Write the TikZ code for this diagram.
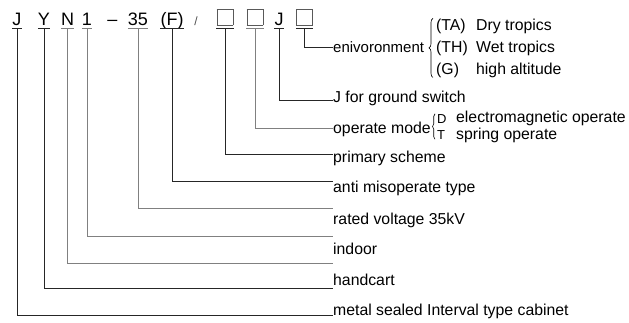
\documentclass[tikz,border=0pt]{standalone}
\usepackage{fontspec}
\setmainfont{Liberation Sans}
\usetikzlibrary{decorations.pathreplacing}

\newcommand{\blankbox}{\textcolor{black!65}{\setlength{\fboxsep}{0pt}\setlength{\fboxrule}{0.6pt}\fbox{\rule{0pt}{15.5pt}\hspace{15.5pt}}}}

\begin{document}
\begin{tikzpicture}[
x=1pt, y=-1pt,
code/.style={font=\fontsize{18}{20}\selectfont, inner xsep=0pt, inner ysep=3pt, text depth=0pt, anchor=base},
lbl/.style={font=\fontsize{15.8}{18}\selectfont, inner sep=0pt, anchor=base west},
opt/.style={font=\fontsize{15.8}{18}\selectfont, inner sep=0pt, anchor=base west},
small/.style={font=\fontsize{13}{14}\selectfont, inner sep=0pt, anchor=base west},
lead/.style={line width=0.7pt, black!85},
leadg/.style={line width=0.7pt, black!50},
brace/.style={decorate, decoration={brace, amplitude=4pt}, line width=0.6pt}
]
\useasboundingbox (0,0) rectangle (629,322);

\node[code] (cJ) at (17,25) {J};
\node[code] (cY) at (44,25) {Y};
\node[code] (cN) at (67.5,25) {N};
\node[code] (c1) at (87,25) {1};
\node[code] (dash) at (112.5,25) {–};
\node[code] (c35) at (138,25) {35};
\node[code] (cF) at (172,25) {(F)};
\node[code, font=\fontsize{12}{14}\selectfont, black!70] (slash) at (196,25) {/};
\node[code] (b1) at (225,25) {\blankbox};
\node[code] (b2) at (255,25) {\blankbox};
\node[code] (cJJ) at (279,25) {J};
\node[code] (b3) at (304.5,25) {\blankbox};

\node[lbl, font=\fontsize{15}{18}\selectfont] (env) at (333,52) {enivoronment};
\node[opt] (tTA) at (436,30) {(TA)};
\node[opt] (tTH) at (436,52) {(TH)};
\node[opt] (tG) at (436,74) {(G)};
\node[opt] at (476,30) {Dry tropics};
\node[opt] at (476,52) {Wet tropics};
\node[opt] at (476,74) {high altitude};

\node[lbl] (ground) at (333,102) {J for ground switch};
\node[lbl] (mode) at (333,133) {operate mode};
\node[small] (mD) at (437,123) {D};
\node[small] (mT) at (437,139) {T};
\node[lbl] at (456,122) {electromagnetic operate};
\node[lbl] at (456,139) {spring operate};
\node[lbl] (scheme) at (333,162) {primary scheme};
\node[lbl] (anti) at (333,192) {anti misoperate type};
\node[lbl] (rated) at (333,224) {rated voltage 35kV};
\node[lbl] (indoor) at (333,254) {indoor};
\node[lbl] (handcart) at (333,285) {handcart};
\node[lbl] (cabinet) at (333,315) {metal sealed Interval type cabinet};

\coordinate (eB3) at (333,47);
\coordinate (eJJ) at (333,100);
\coordinate (eB2) at (333,128);
\coordinate (eB1) at (333,154);
\coordinate (eF) at (333,181);
\coordinate (e35) at (333,208);
\coordinate (e1) at (333,236);
\coordinate (eN) at (333,263);
\coordinate (eY) at (333,288);
\coordinate (eJ) at (333,315);

\draw[lead] (b3.south west) -- (b3.south east) (b3.south) |- (eB3);
\draw[lead] (cJJ.south west) -- (cJJ.south east) (cJJ.south) |- (eJJ);
\draw[leadg] (b2.south west) -- (b2.south east) (b2.south) |- (eB2);
\draw[lead] (b1.south west) -- (b1.south east) (b1.south) |- (eB1);
\draw[lead] (cF.south west) -- (cF.south east) (cF.south) |- (eF);
\draw[leadg] (c35.south west) -- (c35.south east) (c35.south) |- (e35);
\draw[leadg] (c1.south west) -- (c1.south east) (c1.south) |- (e1);
\draw[leadg] (cN.south west) -- (cN.south east) (cN.south) |- (eN);
\draw[lead] (cY.south west) -- (cY.south east) (cY.south) |- (eY);
\draw[lead] (cJ.south west) -- (cJ.south east) (cJ.south) |- (eJ);

\draw[brace] ([xshift=-3pt]tG.south west) -- ([xshift=-3pt]tTA.north west);
\draw[brace, decoration={amplitude=2.5pt}] ([xshift=-2pt]mT.south west) -- ([xshift=-2pt]mD.north west);

\end{tikzpicture}
\end{document}
